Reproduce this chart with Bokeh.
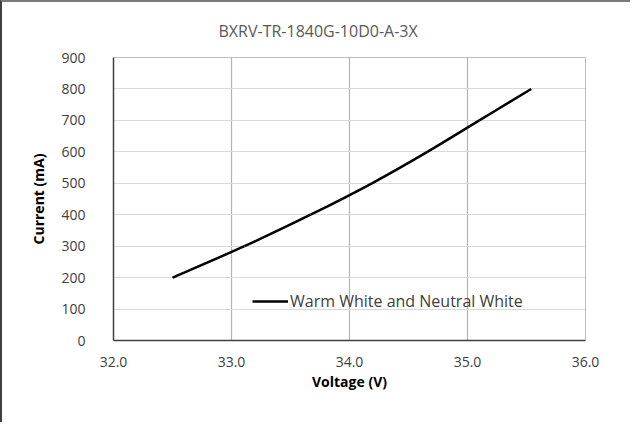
from bokeh.plotting import figure
from bokeh.models import Legend, LegendItem, FixedTicker, Range1d, PrintfTickFormatter
from bokeh.embed import file_html
from bokeh.resources import INLINE

title_text = "BXRV-TR-1840G-10D0-A-3X"
series_name = "Warm White and Neutral White"
voltage = [32.5, 33.11, 33.67, 34.19, 34.66, 35.10, 35.54]
current = [200, 300, 400, 500, 600, 700, 800]
x_ticks = [32, 33, 34, 35, 36]
y_ticks = [0, 100, 200, 300, 400, 500, 600, 700, 800, 900]

FONT = "Open Sans"

p = figure(width=630, height=422, output_backend="svg", toolbar_location=None,
           x_range=Range1d(32, 36), y_range=Range1d(0, 900),
           min_border_left=111, min_border_right=47, min_border_top=55, min_border_bottom=84)
p.styles = {"border-top": "2px solid #7a7a7a", "border-left": "2px solid #404040"}

p.title.text = title_text
p.title.align = "left"
p.title.offset = 105
p.title.standoff = 31
p.title.text_font = FONT
p.title.text_font_style = "normal"
p.title.text_font_size = "16px"
p.title.text_color = "#595959"

# smoothed line (Catmull-Rom style Bezier segments through the data points, like Excel's smoothed line)
n = len(voltage)
x0, y0, x1, y1, cx0, cy0, cx1, cy1 = ([] for _ in range(8))
for i in range(n - 1):
    xp, yp = (voltage[i - 1], current[i - 1]) if i > 0 else (voltage[i], current[i])
    xn, yn = (voltage[i + 2], current[i + 2]) if i + 2 < n else (voltage[i + 1], current[i + 1])
    x0.append(voltage[i]); y0.append(current[i])
    x1.append(voltage[i + 1]); y1.append(current[i + 1])
    cx0.append(voltage[i] + (voltage[i + 1] - xp) / 6); cy0.append(current[i] + (current[i + 1] - yp) / 6)
    cx1.append(voltage[i + 1] - (xn - voltage[i]) / 6); cy1.append(current[i + 1] - (yn - current[i]) / 6)
r = p.bezier(x0=x0, y0=y0, x1=x1, y1=y1, cx0=cx0, cy0=cy0, cx1=cx1, cy1=cy1,
             line_color="black", line_width=2.5)

p.xaxis.ticker = FixedTicker(ticks=x_ticks)
p.yaxis.ticker = FixedTicker(ticks=y_ticks)
p.xaxis.formatter = PrintfTickFormatter(format="%.1f")

for ax in (p.xaxis[0], p.yaxis[0]):
    ax.major_tick_line_color = None
    ax.minor_tick_line_color = None
    ax.axis_line_color = "#404040"
    ax.axis_line_width = 1.5
    ax.major_label_text_font = FONT
    ax.major_label_text_font_size = "14px"
    ax.major_label_text_color = "#404040"
    ax.axis_label_text_font = FONT
    ax.axis_label_text_font_size = "14px"
    ax.axis_label_text_font_style = "bold"
    ax.axis_label_text_color = "#000000"

p.xaxis.axis_label = "Voltage (V)"
p.yaxis.axis_label = "Current (mA)"
p.xaxis.major_label_standoff = 10
p.yaxis.major_label_standoff = 22
p.xaxis.axis_label_standoff = 2
p.yaxis.axis_label_standoff = 10

p.xgrid.grid_line_color = "#b3b3b3"
p.xgrid.grid_line_width = 1.2
p.ygrid.grid_line_color = "#d9d9d9"
p.ygrid.grid_line_width = 1
p.outline_line_color = "#bfbfbf"
p.outline_line_width = 1

legend = Legend(items=[LegendItem(label=series_name, renderers=[r], index=0)],
                location=(139, 28), padding=0, margin=0, spacing=0,
                glyph_width=36, glyph_height=20, label_height=20, label_standoff=2,
                background_fill_alpha=0, border_line_color=None,
                label_text_font=FONT, label_text_font_size="16px", label_text_color="#404040")
p.add_layout(legend)

open("out.html", "w").write(file_html(p, INLINE))
